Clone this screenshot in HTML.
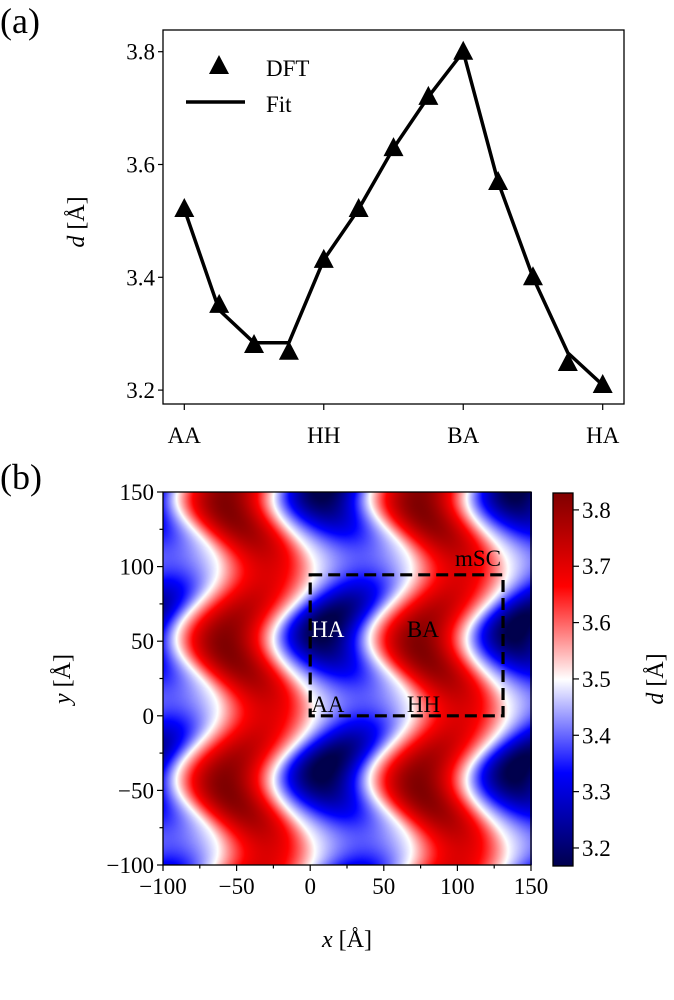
<!DOCTYPE html>
<html><head><meta charset="utf-8">
<style>
html,body{margin:0;padding:0;background:#fff;}
#wrap{position:relative;width:674px;height:1000px;overflow:hidden;}
svg{position:absolute;left:0;top:0;}
canvas{position:absolute;}
text{font-family:"Liberation Serif",serif;fill:#000;}
</style></head>
<body>
<div id="wrap">
<canvas id="hm" width="369" height="373" style="left:163px;top:492px;width:369px;height:373px;"></canvas>
<svg id="svg" width="674" height="1000" viewBox="0 0 674 1000">
<defs>
<linearGradient id="seis" x1="0" y1="1" x2="0" y2="0">
<stop offset="0" stop-color="rgb(0,0,77)"/>
<stop offset="0.25" stop-color="rgb(0,0,255)"/>
<stop offset="0.5" stop-color="rgb(255,255,255)"/>
<stop offset="0.75" stop-color="rgb(255,0,0)"/>
<stop offset="1" stop-color="rgb(128,0,0)"/>
</linearGradient>
</defs>
<text x="0" y="33" font-size="36">(a)</text>
<text x="0" y="489" font-size="36">(b)</text>
<g id="topAxes"></g>
<g id="botAxes"></g>
</svg>
</div>
<script>
const categories = ["AA","","","","HH","","","","BA","","","","HA"];
const tickCats = ["AA","HH","BA","HA"];
const dftValues = [3.521,3.351,3.28,3.268,3.431,3.521,3.629,3.72,3.80,3.569,3.40,3.248,3.209];
const fitValues = [3.521,3.342,3.284,3.284,3.431,3.521,3.629,3.72,3.80,3.569,3.40,3.266,3.209];
const yTicksTop = [3.2,3.4,3.6,3.8];
const hmXTicks = [-100,-50,0,50,100,150];
const hmYTicks = [-100,-50,0,50,100,150];
const cbTicks = [3.2,3.3,3.4,3.5,3.6,3.7,3.8];
const cbRange = [3.168,3.83];
const cellSize = [131,94.5];
const siteLabels = [["HA",0,50,"#fff"],["BA",65,50,"#000"],["AA",0,0,"#000"],["HH",65,0,"#000"]];

const NS="http://www.w3.org/2000/svg";
const FS=23;
function mk(tag, attrs, parent, txt){
  const e=document.createElementNS(NS,tag);
  for(const k in attrs) e.setAttribute(k,attrs[k]);
  if(txt!==undefined) e.textContent=txt;
  parent.appendChild(e); return e;
}
// ---- top panel ----
const T={l:163,r:624,t:30,b:404};
const tx=i=>184.3+i*(602.7-184.3)/(categories.length-1);
const ty=v=>51.7+(3.8-v)*564;
const topG=document.getElementById('topAxes');
let pts=fitValues.map((v,i)=>tx(i)+","+ty(v)).join(" ");
let fl=mk('polyline',{points:pts,fill:"none",stroke:"#000","stroke-width":3.5,"stroke-linejoin":"miter"},topG);


dftValues.forEach((v,i)=>{
  const x=tx(i),y=ty(v);
  const p=mk('polygon',{points:`${x},${y-11} ${x-10},${y+8} ${x+10},${y+8}`,fill:"#000"},topG);
  
  
});
mk('rect',{x:T.l,y:T.t,width:T.r-T.l,height:T.b-T.t,fill:"none",stroke:"#000","stroke-width":1.3,},topG);
yTicksTop.forEach(v=>{
  const y=ty(v);
  mk('line',{x1:T.l-5,x2:T.l,y1:y,y2:y,stroke:"#000","stroke-width":1.2},topG);
  const t=mk('text',{x:T.l-8,y:y+8,"font-size":FS,"text-anchor":"end"},topG,v.toFixed(1));
  
  
});
tickCats.forEach((c,k)=>{
  const x=tx(k*4);
  mk('line',{x1:x,x2:x,y1:T.b,y2:T.b+6,stroke:"#000","stroke-width":1.2},topG);
  const t=mk('text',{x:x,y:443,"font-size":FS,"text-anchor":"middle"},topG,c);
  
  
});
mk('text',{transform:"translate(84,222) rotate(-90)","font-size":24,"text-anchor":"middle",},topG).innerHTML='<tspan font-style="italic">d</tspan> [Å]';
// legend
mk('polygon',{points:"219,55 209,74 229,74",fill:"#000",},topG);
mk('text',{x:266,y:76,"font-size":FS,},topG,"DFT");
mk('line',{x1:186,x2:245,y1:102,y2:102,stroke:"#000","stroke-width":3.5,},topG);
mk('text',{x:266,y:112,"font-size":FS,},topG,"Fit");

// ---- heatmap ----
const H={l:163,r:531,t:492,b:865};
const hx=v=>H.l+(v+100)*(H.r-H.l)/250;
const hy=v=>H.b-(v+100)*(H.b-H.t)/250;
function seismic(f){
  f=Math.max(0,Math.min(1,f));
  const st=[[0,[0,0,77]],[0.25,[0,0,255]],[0.5,[255,255,255]],[0.75,[255,0,0]],[1,[128,0,0]]];
  for(let i=0;i<4;i++){ if(f<=st[i+1][0]){ const a=(f-st[i][0])/0.25; return st[i][1].map((c,j)=>c+(st[i+1][1][j]-c)*a);} }
  return st[4][1];
}
function dval(x,y){
  const Lx=cellSize[0],Ly=cellSize[1];
  const s=14*Math.cos(2*Math.PI*(y-4)/Ly);
  const c=Math.cos(2*Math.PI*(x+44-s)/Lx);
  const mean=3.50;
  if(c>=0) return mean+c*(0.27+0.06*Math.cos(2*Math.PI*(y-46)/Ly));
  return mean+c*(0.23+0.12*Math.cos(2*Math.PI*(y-59)/Ly));
}
const cv=document.getElementById('hm'),ctx=cv.getContext('2d');
const img=ctx.createImageData(cv.width,cv.height);
for(let j=0;j<cv.height;j++){for(let i=0;i<cv.width;i++){
  const x=-100+(i+0.5)*250/cv.width, y=150-(j+0.5)*250/cv.height;
  const c=seismic((dval(x,y)-cbRange[0])/(cbRange[1]-cbRange[0]));
  const k=(j*cv.width+i)*4; img.data[k]=c[0];img.data[k+1]=c[1];img.data[k+2]=c[2];img.data[k+3]=255;
}}
ctx.putImageData(img,0,0);

const bot=document.getElementById('botAxes');
mk('rect',{x:hx(0),y:hy(cellSize[1]),width:hx(cellSize[0])-hx(0),height:hy(0)-hy(cellSize[1]),fill:"none",stroke:"#000","stroke-width":3.2,"stroke-dasharray":"12,6",},bot);
mk('text',{x:hx(cellSize[0])-2,y:hy(cellSize[1])-9,"font-size":FS,"text-anchor":"end",},bot,"mSC");
siteLabels.forEach(s=>{
  const t=mk('text',{x:hx(s[1])+1,y:hy(s[2])-4,"font-size":FS,style:"fill:"+s[3]},bot,s[0]);
  
  
});
mk('rect',{x:H.l,y:H.t,width:H.r-H.l,height:H.b-H.t,fill:"none",stroke:"#000","stroke-width":1.3,},bot);
for(let v=-100;v<=150;v+=25){
  const major=(v%50===0), L=major?6:3.5;
  mk('line',{x1:hx(v),x2:hx(v),y1:H.b,y2:H.b+L,stroke:"#000","stroke-width":1.2},bot);
  mk('line',{x1:H.l-L,x2:H.l,y1:hy(v),y2:hy(v),stroke:"#000","stroke-width":1.2},bot);
}
hmXTicks.forEach(v=>{
  const t=mk('text',{x:hx(v),y:H.b+29,"font-size":FS,"text-anchor":"middle"},bot,v<0?"−"+(-v):String(v));
  
  
});
hmYTicks.forEach(v=>{
  const t=mk('text',{x:H.l-9,y:hy(v)+8,"font-size":FS,"text-anchor":"end"},bot,v<0?"−"+(-v):String(v));
  
  
});
mk('text',{x:347,y:947,"font-size":24,"text-anchor":"middle",},bot).innerHTML='<tspan font-style="italic">x</tspan> [Å]';
mk('text',{transform:"translate(70,679) rotate(-90)","font-size":24,"text-anchor":"middle",},bot).innerHTML='<tspan font-style="italic">y</tspan> [Å]';
// colorbar
const C={l:553,r:573,t:493,b:866};
const cy=v=>C.b-(v-cbRange[0])*(C.b-C.t)/(cbRange[1]-cbRange[0]);
mk('rect',{x:C.l,y:C.t,width:C.r-C.l,height:C.b-C.t,fill:"url(#seis)",stroke:"#000","stroke-width":1.3,},bot);
cbTicks.forEach(v=>{
  const y=cy(v);
  mk('line',{x1:C.r,x2:C.r+6,y1:y,y2:y,stroke:"#000","stroke-width":1.2},bot);
  const t=mk('text',{x:C.r+9,y:y+8,"font-size":FS},bot,v.toFixed(1));
  
  
});
mk('text',{transform:"translate(663,679) rotate(-90)","font-size":24,"text-anchor":"middle",},bot).innerHTML='<tspan font-style="italic">d</tspan> [Å]';
</script>
</body></html>
